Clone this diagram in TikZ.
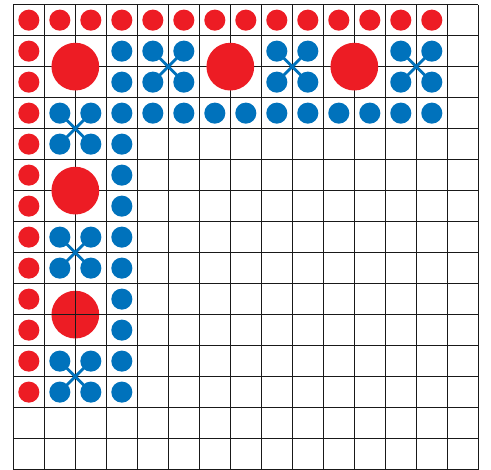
\documentclass[tikz,border=0pt]{standalone}
\definecolor{dotred}{RGB}{237,28,36}
\definecolor{dotblue}{RGB}{0,114,188}
\tikzset{
  gridline/.style={line width=0.9pt, black!90},
  reddot/.style={fill=dotred},
  bluedot/.style={fill=dotblue},
  crossline/.style={draw=dotblue, line width=2.6pt},
}
\begin{document}
\begin{tikzpicture}
        \useasboundingbox (-0.43,0.15) rectangle (15.41,-15.01);
        \draw[gridline] (0,-15) grid (15,0);
        % outer row and column of small red dots
        \foreach \c in {0,...,13} \fill[reddot] (\c+0.5,-0.5) circle (0.34);
        \foreach \r in {1,...,12} \fill[reddot] (0.5,-\r-0.5) circle (0.34);
        % inner row and column of small blue dots
        \foreach \r in {1,...,12} \fill[bluedot] (3.5,-\r-0.5) circle (0.34);
        \foreach \c in {4,...,13} \fill[bluedot] (\c+0.5,-3.5) circle (0.34);
        % large red dots
        \foreach \cx/\cy in {2/2,7/2,11/2,2/6,2/10} \fill[reddot] (\cx,-\cy) circle (0.77);
        % the lowest large dot shows the grid on top of it
        \begin{scope}
            \clip (2,-10) circle (0.77);
            \draw[gridline] (1,-11) grid (3,-9);
        \end{scope}
        % crossed groups of four blue dots
        \foreach \cx/\cy in {5/2,9/2,13/2,2/4,2/8,2/12} {
            \coordinate (nw) at (\cx-0.5,-\cy+0.5);
            \coordinate (ne) at (\cx+0.5,-\cy+0.5);
            \coordinate (sw) at (\cx-0.5,-\cy-0.5);
            \coordinate (se) at (\cx+0.5,-\cy-0.5);
            \draw[crossline] (nw) -- (se) (ne) -- (sw);
            \foreach \p in {nw,ne,sw,se} \fill[bluedot] (\p) circle (0.34);
        }
    \end{tikzpicture}
\end{document}
